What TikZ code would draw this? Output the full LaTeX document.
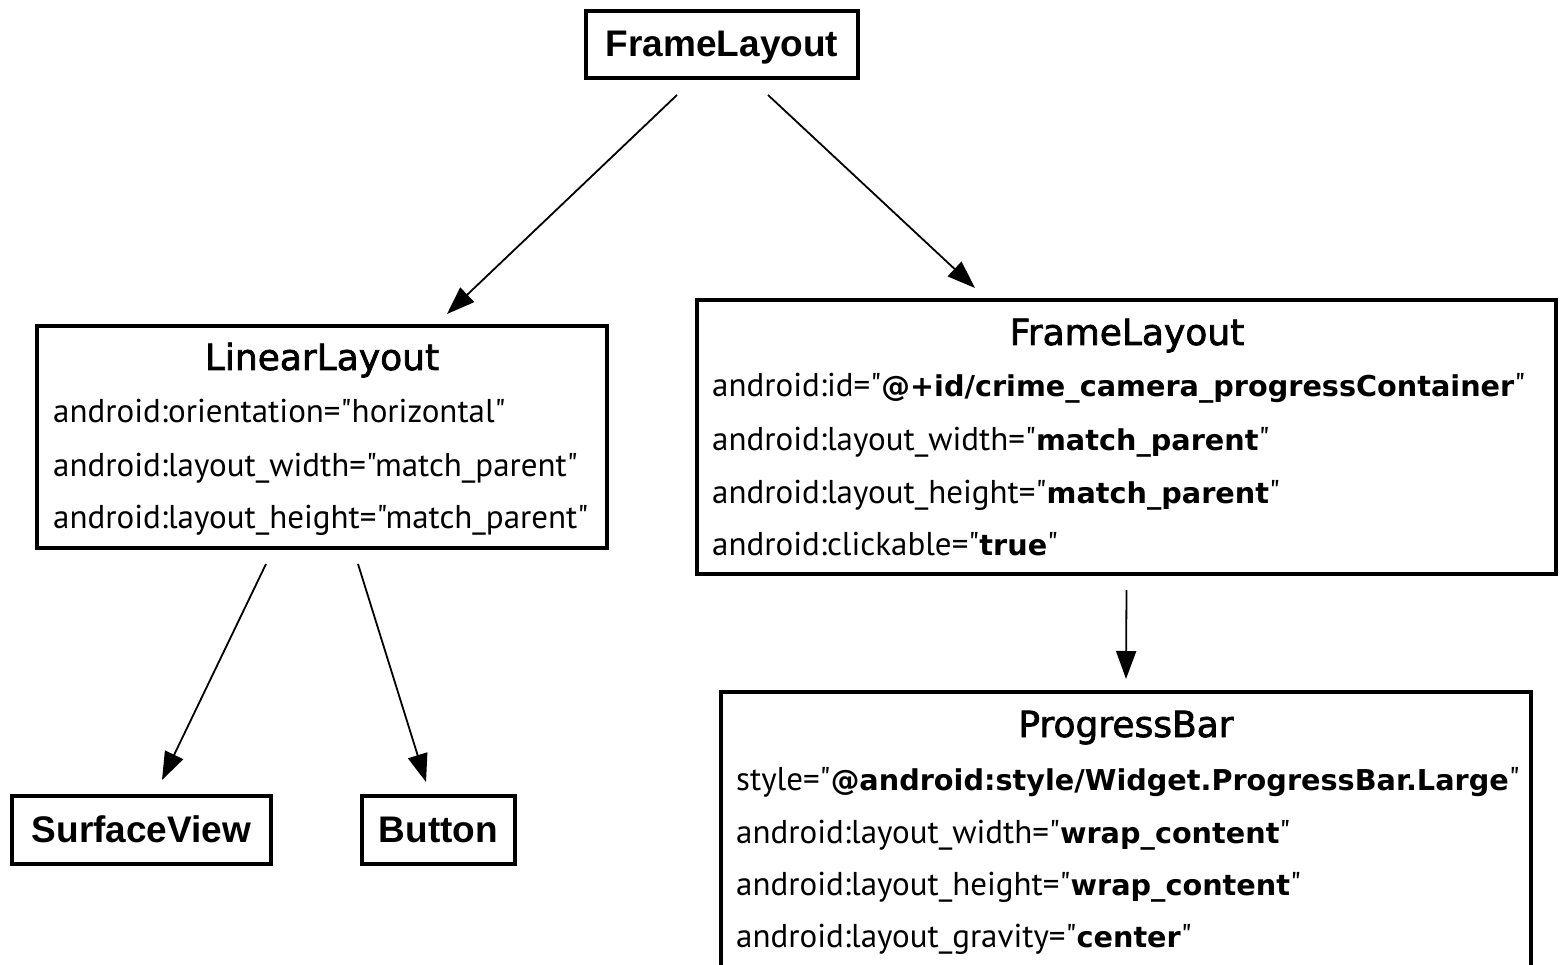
\documentclass[tikz,border=0pt]{standalone}
\usepackage{fontspec}
\newfontfamily\bodyfont{PT Sans}
\newfontfamily\bfont{DejaVu Sans}
\newfontfamily\headfont{Liberation Sans}
\newfontfamily\innerfont{DejaVu Sans}[FakeBold=2]
\newcommand\dq{\char34\relax}
\newcommand\B[1]{{\bfont\bfseries\fontsize{28.7}{34}\selectfont #1}}
\usetikzlibrary{arrows.meta,calc}
\tikzset{
  box/.style={draw=black, line width=4pt, fill=none, inner sep=0pt},
  arr/.style={line width=1.8pt, -{Triangle[length=28pt,width=20pt]}},
  headtxt/.style={inner sep=0pt, anchor=base, font=\headfont\bfseries\fontsize{37}{40}\selectfont},
  innertxt/.style={inner sep=0pt, anchor=base, font=\innerfont\fontsize{36}{40}\selectfont},
  attr/.style={inner sep=0pt, anchor=base west, font=\bodyfont\fontsize{33}{38}\selectfont}
}
\begin{document}
\begin{tikzpicture}[x=1pt,y=-1pt]
\useasboundingbox[fill=white] (0,0) rectangle (1561,965);
% boxes
\node[box, minimum width=272pt, minimum height=67pt] (top) at (722,44.5) {};
\node[box, minimum width=570pt, minimum height=222pt] (ll) at (322,437) {};
\node[box, minimum width=859pt, minimum height=274pt] (fl) at (1126.5,437) {};
\node[box, minimum width=810pt, minimum height=276pt] (pb) at (1126,830) {};
\node[box, minimum width=259pt, minimum height=68pt] (sv) at (141.5,830) {};
\node[box, minimum width=153pt, minimum height=68pt] (bt) at (438.5,830) {};
% titles
\node[headtxt] (ttop) at (722,57) {FrameLayout};
\node[headtxt] (tsv) at (141.5,842) {SurfaceView};
\node[headtxt] (tbt) at (438.5,842) {Button};
\node[innertxt] (tll) at (322,370) {LinearLayout};
\node[innertxt] (tfl) at (1127,345) {FrameLayout};
\node[innertxt] (tpb) at (1126,737) {ProgressBar};
% attributes
\node[attr] (ll1) at (53,423) {android:orientation=\dq horizontal\dq};
\node[attr] (ll2) at (53,476) {android:layout\_width=\dq match\_parent\dq};
\node[attr] (ll3) at (53,528) {android:layout\_height=\dq match\_parent\dq};
\node[attr] (fl1) at (712,397) {android:id=\dq\B{@+id/crime\_camera\_progressContainer}\dq};
\node[attr] (fl2) at (712,450) {android:layout\_width=\dq\B{match\_parent}\dq};
\node[attr] (fl3) at (712,503) {android:layout\_height=\dq\B{match\_parent}\dq};
\node[attr] (fl4) at (712,555) {android:clickable=\dq\B{true}\dq};
\node[attr] (pb1) at (736,790) {style=\dq\B{@android:style/Widget.ProgressBar.Large}\dq};
\node[attr] (pb2) at (736,843) {android:layout\_width=\dq\B{wrap\_content}\dq};
\node[attr] (pb3) at (736,895) {android:layout\_height=\dq\B{wrap\_content}\dq};
\node[attr] (pb4) at (736,947) {android:layout\_gravity=\dq\B{center}\dq};
% connectors
\draw[arr] ($(top.south)+(-45,15)$) -- ($(ll.north)+(125,-10)$);
\draw[arr] ($(top.south)+(46,15)$) -- ($(fl.north)+(-151.5,-10)$);
\draw[arr] ($(fl.south)+(0,14)$) -- ($(pb.north)+(0,-11)$);
\draw[arr] ($(ll.south)+(-56,14)$) -- ($(sv.north)+(20.5,-14)$);
\draw[arr] ($(ll.south)+(36,14)$) -- ($(bt.north)+(-12.5,-12)$);
\end{tikzpicture}
\end{document}
